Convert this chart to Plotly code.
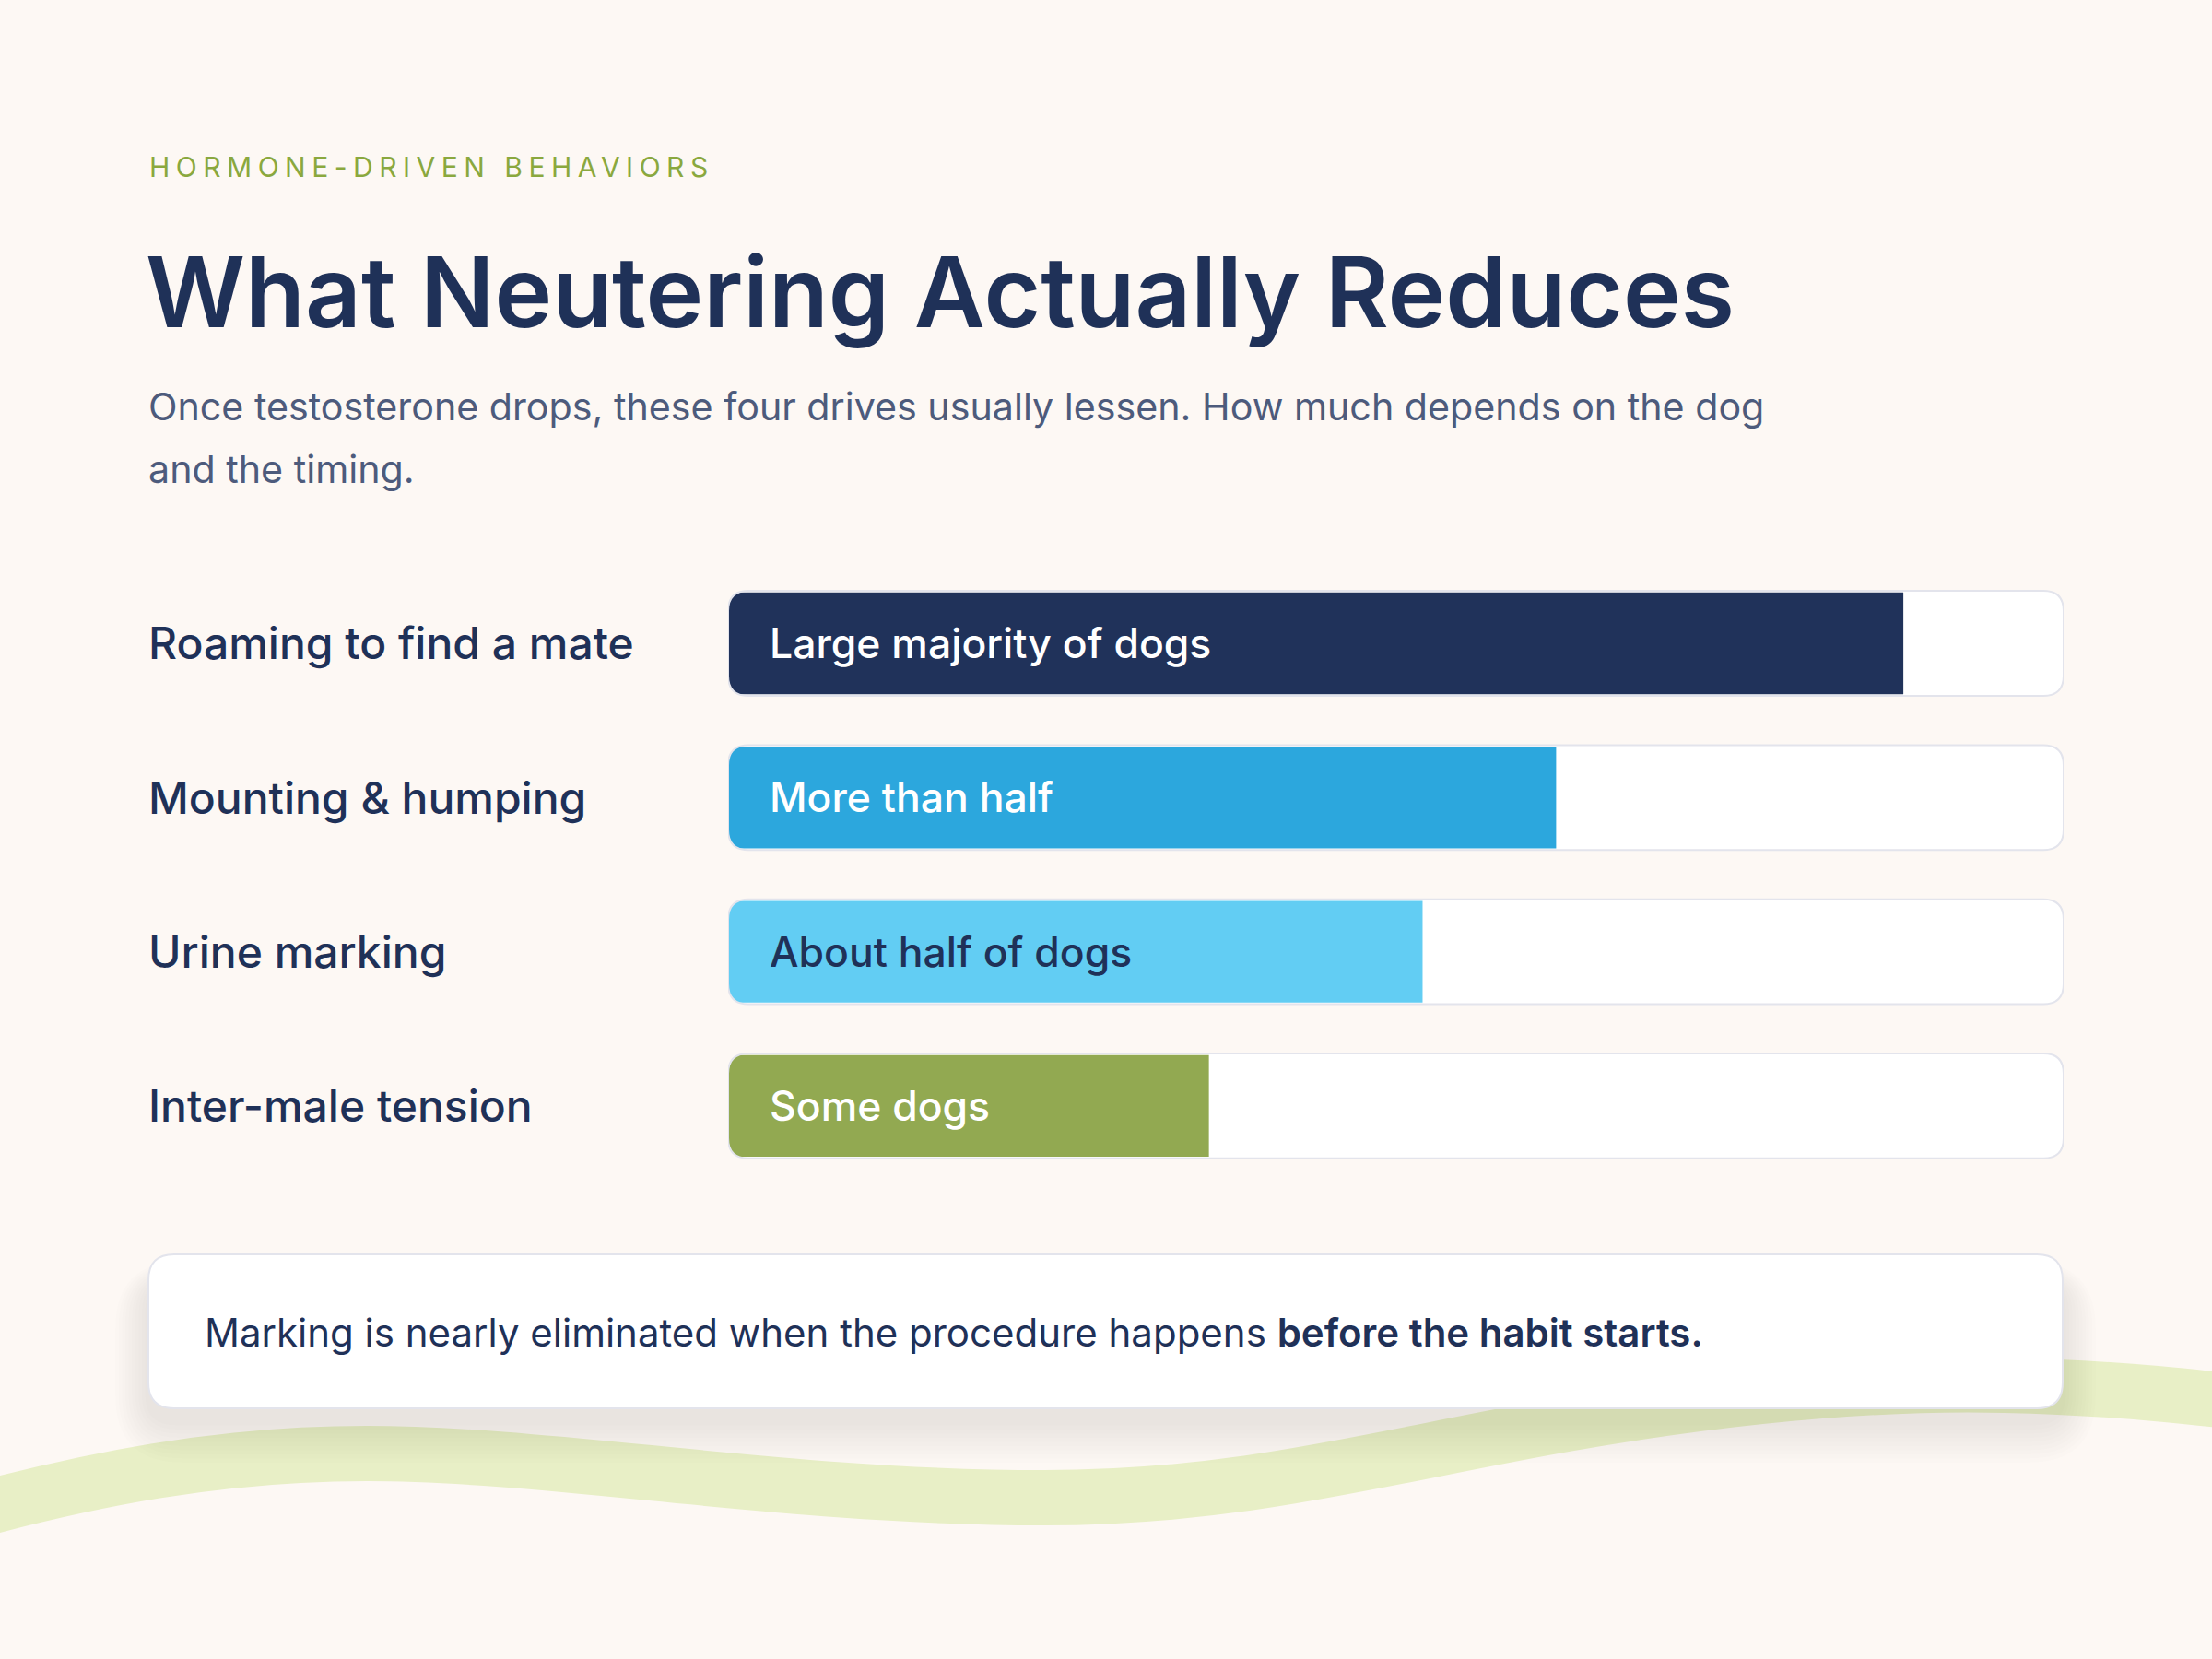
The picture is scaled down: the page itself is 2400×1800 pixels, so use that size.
import plotly.graph_objects as go

W, H = 2400, 1800

# ---------------- data ----------------
eyebrow = "HORMONE-DRIVEN BEHAVIORS"
title = "What Neutering Actually Reduces"
subtitle_lines = [
    "Once testosterone drops, these four drives usually lessen. How much depends on the dog",
    "and the timing.",
]
categories = ["Roaming to find a mate", "Mounting & humping", "Urine marking", "Inter-male tension"]
values = [88, 62, 52, 36]
bar_labels = ["Large majority of dogs", "More than half", "About half of dogs", "Some dogs"]
bar_colors = ["#20325a", "#2ca7dd", "#62cdf3", "#92a951"]
label_colors = ["#ffffff", "#ffffff", "#1f3158", "#ffffff"]
callout_plain = "Marking is nearly eliminated when the procedure happens "
callout_bold = "before the habit starts."
x_max = 100

# ---------------- style ----------------
BG = "#fdf8f4"
NAVY = "#1f3158"
GREEN = "#8aa83e"
SLATE = "#4d5b7c"
WAVE = "#e8efc6"
BORDER = "#e3e4ec"
FONT = "Inter, 'Open Sans', sans-serif"

TRACK_L, TRACK_R = 790, 2239
ROW0, ROW_STEP = 698, 167.3


def px(x):
    return x / W


def py(y):
    return 1 - y / H


def rrect(x0, x1, y0, y1, rx, ry):
    # y0 < y1 in the coordinate system used
    return (f"M{x0+rx},{y0} L{x1-rx},{y0} Q{x1},{y0} {x1},{y0+ry} "
            f"L{x1},{y1-ry} Q{x1},{y1} {x1-rx},{y1} L{x0+rx},{y1} "
            f"Q{x0},{y1} {x0},{y1-ry} L{x0},{y0+ry} Q{x0},{y0} {x0+rx},{y0} Z")


def paper_rrect(x0, x1, ytop, ybot, r):
    # pixel box -> paper path (paper y grows upward)
    return rrect(px(x0), px(x1), py(ybot), py(ytop), r / W, r / H)


n = len(categories)
ypos = list(range(n))
top_px = ROW0 - ROW_STEP / 2
bot_px = ROW0 + ROW_STEP * (n - 0.5)

fig = go.Figure()

fig.add_trace(go.Bar(
    y=ypos, x=values, orientation="h",
    width=0.66,
    marker=dict(color=bar_colors, line=dict(width=0)),
    hoverinfo="skip", showlegend=False,
))

shapes = []

# wave band (decorative)
wave_pts = [(-100, 1660), (100, 1600), (250, 1577), (398, 1577),
            (600, 1577), (850, 1625), (1133, 1625),
            (1350, 1625), (1500, 1580), (1700, 1545),
            (1900, 1510), (2050, 1500), (2175, 1503),
            (2300, 1506), (2380, 1515), (2500, 1530)]
d = f"M{px(wave_pts[0][0])},{py(wave_pts[0][1])}"
for i in range(1, len(wave_pts), 3):
    a, b, c = wave_pts[i], wave_pts[i + 1], wave_pts[i + 2]
    d += f" C{px(a[0])},{py(a[1])} {px(b[0])},{py(b[1])} {px(c[0])},{py(c[1])}"
shapes.append(dict(type="path", xref="paper", yref="paper", path=d,
                   line=dict(color=WAVE, width=60), fillcolor="rgba(0,0,0,0)", layer="below"))

# tracks
rx = 22 / ((TRACK_R - TRACK_L) / x_max)
ry = 22 / ROW_STEP
for i in ypos:
    y0, y1 = i - 0.34, i + 0.34
    p = rrect(0, x_max, y0, y1, rx, ry)
    shapes.append(dict(type="path", xref="x", yref="y", path=p,
                       fillcolor="#ffffff", line=dict(width=0), layer="below"))
    # round the left end of the filled bar to follow the track
    for yc, ys in ((y0, y0 + ry), (y1, y1 - ry)):
        shapes.append(dict(type="path", xref="x", yref="y",
                           path=f"M0,{yc} L{rx},{yc} Q0,{yc} 0,{ys} Z",
                           fillcolor=BG, line=dict(width=0), layer="above"))
    shapes.append(dict(type="path", xref="x", yref="y", path=p,
                       fillcolor="rgba(0,0,0,0)", line=dict(color=BORDER, width=2), layer="above"))

# callout box with soft shadow
bx0, bx1, by0, by1 = 161, 2238, 1361, 1528
for k in range(10, 0, -1):
    e = 4.5 * k
    shapes.append(dict(type="path", xref="paper", yref="paper",
                       path=paper_rrect(bx0 - 0.8 * e, bx1 + 0.8 * e, by0 + 30 - 0.5 * e, by1 + 14 + e, 28 + e),
                       fillcolor="rgba(50,45,60,0.006)", line=dict(width=0), layer="above"))
shapes.append(dict(type="path", xref="paper", yref="paper",
                   path=paper_rrect(bx0, bx1, by0, by1, 28),
                   fillcolor="#ffffff", line=dict(color=BORDER, width=2), layer="above"))

annotations = []
annotations.append(dict(text=eyebrow, x=px(160), y=py(181), xref="paper", yref="paper",
                        xanchor="left", yanchor="middle", align="left", showarrow=False,
                        font=dict(family=FONT, size=30, color=GREEN)))
annotations.append(dict(text=title, x=px(156), y=py(316), xref="paper", yref="paper",
                        xanchor="left", yanchor="middle", showarrow=False,
                        font=dict(family=FONT, size=106, color=NAVY, weight=600)))
for j, line in enumerate(subtitle_lines):
    annotations.append(dict(text=line, x=px(159), y=py(441 + 68 * j), xref="paper", yref="paper",
                            xanchor="left", yanchor="middle", showarrow=False,
                            font=dict(family=FONT, size=41.2, color=SLATE)))
for i, cat in enumerate(categories):
    annotations.append(dict(text=cat, x=px(159), y=i, xref="paper", yref="y",
                            xanchor="left", yanchor="middle", showarrow=False,
                            font=dict(family=FONT, size=48, color=NAVY, weight=500)))
    annotations.append(dict(text=bar_labels[i], x=0, y=i, xref="x", yref="y", xshift=43,
                            xanchor="left", yanchor="middle", showarrow=False,
                            font=dict(family=FONT, size=44.5, color=label_colors[i], weight=500)))
annotations.append(dict(text=callout_plain + "<span style='font-weight:600'>" + callout_bold + "</span>",
                        x=px(220), y=py(1445), xref="paper", yref="paper",
                        xanchor="left", yanchor="middle", showarrow=False,
                        font=dict(family=FONT, size=42, color=NAVY)))

fig.update_layout(
    width=W, height=H, autosize=False,
    margin=dict(l=0, r=0, t=0, b=0, pad=0),
    paper_bgcolor=BG, plot_bgcolor="rgba(0,0,0,0)",
    barmode="overlay",
    xaxis=dict(domain=[px(TRACK_L), px(TRACK_R)], range=[0, x_max], visible=False, fixedrange=True),
    yaxis=dict(domain=[py(bot_px), py(top_px)], range=[n - 0.5, -0.5], visible=False, fixedrange=True),
    shapes=shapes, annotations=annotations,
)

post = """
document.body.style.margin = '0';
document.body.style.background = '%s';
var gd = document.getElementById('{plot_id}');
function spaceEyebrow() {
  gd.querySelectorAll('.annotation-text').forEach(function (t) {
    if (t.textContent.indexOf('HORMONE') === 0) { t.style.letterSpacing = '6.5px'; }
  });
}
spaceEyebrow();
gd.on('plotly_afterplot', spaceEyebrow);
""" % BG

fig.write_html("out.html", post_script=post, config={"displayModeBar": False, "staticPlot": True})
